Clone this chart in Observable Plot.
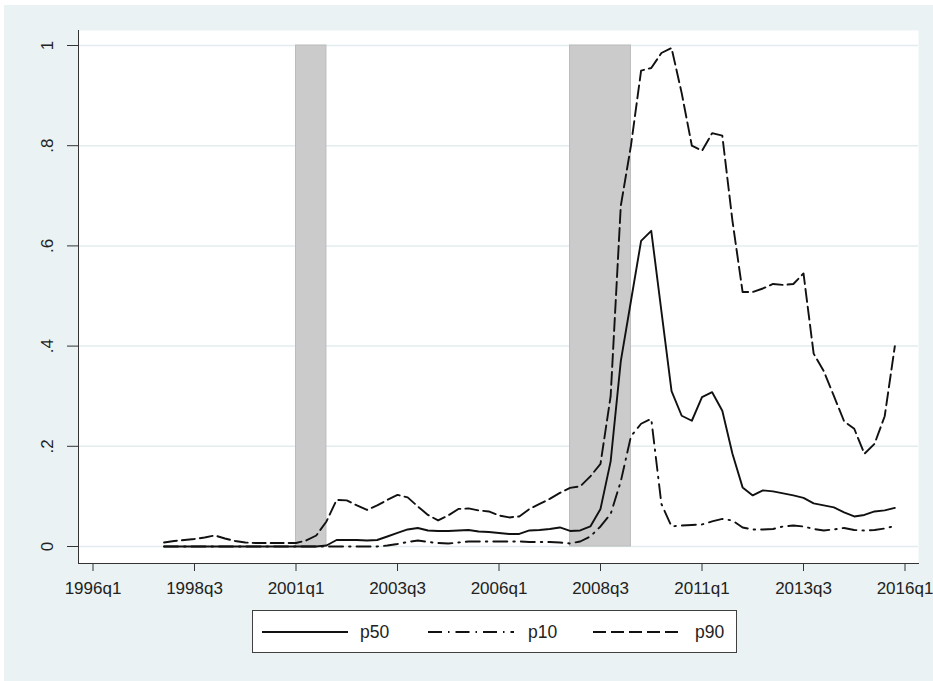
<!DOCTYPE html>
<html><head><meta charset="utf-8">
<script src="https://cdn.jsdelivr.net/npm/d3@7"></script>
<script src="https://cdn.jsdelivr.net/npm/@observablehq/plot@0.6"></script>
<style>
html,body{margin:0;padding:0;background:#fff;width:933px;height:681px;overflow:hidden;}
#bg{position:absolute;left:4px;top:5px;width:929px;height:676px;background:#eaf2f3;}
#chart{position:absolute;left:0;top:0;}
#legend{position:absolute;left:252px;top:610px;width:485px;height:43px;box-sizing:border-box;border:1px solid #404040;background:#fff;}
</style></head><body>
<div id="bg"></div><div id="chart"></div><div id="legend"></div>
<script>
// ---- data ----
const startQuarter = "1997q4";
const p50 = [0,0,0,0,0,0,0,0,0,0,0,0,0,0,0,0,
  0.002,0.013,0.013,0.013,0.012,0.013,0.020,0.027,0.034,0.037,
  0.032,0.031,0.031,0.032,0.033,0.030,0.029,0.027,0.025,0.025,
  0.032,0.033,0.035,0.038,0.031,0.032,0.040,0.075,0.17,0.37,
  0.49,0.61,0.63,0.47,0.31,0.261,0.251,0.298,0.308,0.271,
  0.185,0.118,0.102,0.112,0.110,0.106,0.102,0.097,0.086,0.082,
  0.078,0.068,0.060,0.063,0.070,0.072,0.077];
const p10 = [0,0,0,0,0,0,0,0,0,0,0,0,0,0,0,0,0,0,0,0,0,0,
  0.002,0.005,0.009,0.012,0.009,0.007,0.006,0.008,0.010,0.010,
  0.010,0.010,0.010,0.010,0.009,0.009,0.009,0.008,0.006,0.010,
  0.020,0.040,0.065,0.13,0.22,0.245,0.255,0.085,0.040,0.042,
  0.043,0.044,0.050,0.055,0.052,0.038,0.034,0.034,0.035,0.040,
  0.042,0.040,0.035,0.032,0.034,0.037,0.033,0.032,0.033,0.036,0.041];
const p90 = [0.008,0.011,0.013,0.015,0.018,0.022,0.016,0.011,0.008,0.007,
  0.007,0.007,0.007,0.007,0.012,0.022,0.050,0.093,0.092,0.082,
  0.073,0.082,0.093,0.103,0.098,0.080,0.063,0.052,0.062,0.075,
  0.076,0.072,0.070,0.062,0.058,0.060,0.075,0.085,0.095,0.107,
  0.117,0.120,0.140,0.165,0.30,0.68,0.80,0.95,0.955,0.985,
  0.995,0.905,0.80,0.79,0.825,0.82,0.65,0.508,0.508,0.515,
  0.524,0.522,0.524,0.545,0.385,0.35,0.30,0.25,0.235,0.185,
  0.205,0.26,0.40];
const recessionStarts = ["2001q1","2007q4"];
const recessionEnds = ["2001q4","2009q2"];
const xTickLabels = ["1996q1","1998q3","2001q1","2003q3","2006q1","2008q3","2011q1","2013q3","2016q1"];
const yTicks = [0,0.2,0.4,0.6,0.8,1];
const yTickLabels = ["0",".2",".4",".6",".8","1"];
const seriesNames = ["p50","p10","p90"];

// ---- helpers ----
const qIndex = s => { const [y,q] = s.split("q").map(Number); return (y-1996)*4 + (q-1); };
const start = qIndex(startQuarter);
const rows = arr => arr.map((v,i)=>({q: start+i, v}));
const xTicks = xTickLabels.map(qIndex);
const recessions = recessionStarts.map((s,i)=>({a: qIndex(s), b: qIndex(recessionEnds[i]), lo: yTicks[0], hi: yTicks[yTicks.length-1]}));
const dash = {p50: null, p10: "14,6,1.5,6", p90: "13,5"};
const seriesData = {p50, p10, p90};
const ink = "#111";

const chart = Plot.plot({
  width: 933, height: 600,
  marginLeft: 78, marginRight: 15, marginTop: 30, marginBottom: 37,
  style: {fontFamily: "'Liberation Sans', Arial, sans-serif", fontSize: "17px", background: "transparent", color: "#222", overflow: "visible"},
  x: {type: "linear", domain: [0, 80], range: [92.5, 904.5]},
  y: {domain: [0, 1], range: [546, 45]},
  marks: [
    Plot.frame({fill: "#fff", stroke: null}),
    Plot.gridY(yTicks, {stroke: "#e2ecee", strokeOpacity: 1, strokeWidth: 1.5}),
    Plot.rect(recessions, {x1: "a", x2: "b", y1: "lo", y2: "hi", fill: "#cbcbcb", stroke: "#bcbcbc", strokeWidth: 1}),
    ...seriesNames.map(n => Plot.line(rows(seriesData[n]), {x: "q", y: "v", stroke: ink, strokeWidth: 1.9, strokeDasharray: dash[n]})),
    Plot.axisY(yTicks, {tickFormat: d => yTickLabels[yTicks.indexOf(d)], tickSize: 11, tickPadding: 15, tickRotate: -90, textAnchor: "middle", lineAnchor: "bottom", stroke: "#333"}),
    Plot.axisX(xTicks, {tickFormat: d => xTickLabels[xTicks.indexOf(d)], tickSize: 8, tickPadding: 10, stroke: "#333"}),
    Plot.frame({anchor: "left", stroke: "#333"}),
    Plot.frame({anchor: "bottom", stroke: "#333"})
  ]
});
document.getElementById("chart").appendChild(chart);

// ---- legend ----
const lg = d3.select("#legend").append("svg").attr("width", 483).attr("height", 41)
  .style("font-family", "'Liberation Sans', Arial, sans-serif").style("font-size", "17.5px");
const lgPos = [{x1: 9, x2: 95, tx: 107}, {x1: 175, x2: 261, tx: 275}, {x1: 340, x2: 430, tx: 442}];
seriesNames.forEach((n, i) => {
  const p = lgPos[i];
  lg.append("line").attr("x1", p.x1).attr("x2", p.x2).attr("y1", 21).attr("y2", 21)
    .attr("stroke", ink).attr("stroke-width", 1.9).attr("stroke-dasharray", dash[n]);
  lg.append("text").attr("x", p.tx).attr("y", 21).attr("dy", "0.35em").attr("fill", "#222").text(n);
});
</script>
</body></html>
